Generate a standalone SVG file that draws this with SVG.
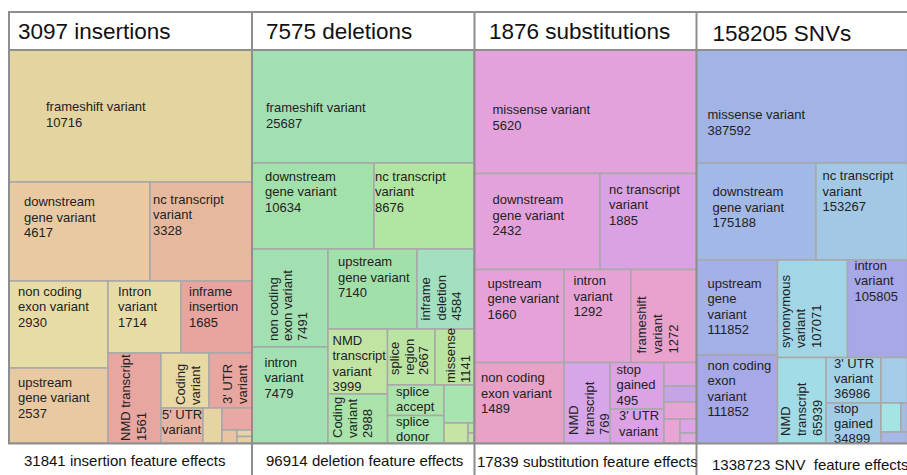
<svg xmlns="http://www.w3.org/2000/svg" width="907" height="475" viewBox="0 0 907 475">
<defs>
<style>
.b{stroke:#a8a8a8;stroke-width:1.5}
.t{font-family:"Liberation Sans",Arial,sans-serif;font-size:13px;fill:#222}
.h{font-family:"Liberation Sans",Arial,sans-serif;font-size:22.5px;fill:#111}
.f{font-family:"Liberation Sans",Arial,sans-serif;font-size:15px;fill:#111;white-space:pre}
.fr{stroke:#8e8e8e;stroke-width:2;fill:none}
</style>
<clipPath id="c3"><rect x="475" y="444" width="221.5" height="31"/></clipPath>
</defs>
<rect width="907" height="475" fill="#fff"/>

<g id="header">
<text class="h" x="18" y="39">3097 insertions</text>
<text class="h" x="266" y="39">7575 deletions</text>
<text class="h" x="489" y="39">1876 substitutions</text>
<text class="h" x="712.5" y="40.5">158205 SNVs</text>
</g>

<!-- Panel 1: insertions -->
<g id="insertions">
<g id="ins-frameshift"><rect class="b" x="9" y="50" width="243" height="132" fill="#e4d4a0"/><text class="t" x="46" y="111">frameshift variant<tspan x="46" dy="15.5">10716</tspan></text></g>
<g id="ins-downstream"><rect class="b" x="9" y="182" width="141" height="99" fill="#e8c9a2"/><text class="t" x="24" y="206">downstream<tspan x="24" dy="15.5">gene variant</tspan><tspan x="24" dy="15.5">4617</tspan></text></g>
<g id="ins-nc"><rect class="b" x="150" y="182" width="102" height="99" fill="#e6b99e"/><text class="t" x="153" y="203.5">nc transcript<tspan x="153" dy="15.5">variant</tspan><tspan x="153" dy="15.5">3328</tspan></text></g>
<g id="ins-noncoding"><rect class="b" x="9" y="281" width="99" height="87" fill="#e8dca6"/><text class="t" x="18" y="295.5">non coding<tspan x="18" dy="15.5">exon variant</tspan><tspan x="18" dy="15.5">2930</tspan></text></g>
<g id="ins-intron"><rect class="b" x="108" y="281" width="73" height="72" fill="#e8dca6"/><text class="t" x="118" y="295.5">Intron<tspan x="118" dy="15.5">variant</tspan><tspan x="118" dy="15.5">1714</tspan></text></g>
<g id="ins-inframe"><rect class="b" x="181" y="281" width="71" height="72" fill="#e8a5a0"/><text class="t" x="189" y="295.5">inframe<tspan x="189" dy="15.5">insertion</tspan><tspan x="189" dy="15.5">1685</tspan></text></g>
<g id="ins-upstream"><rect class="b" x="9" y="368" width="99" height="75" fill="#e8c9a2"/><text class="t" x="18" y="386.5">upstream<tspan x="18" dy="15.5">gene variant</tspan><tspan x="18" dy="15.5">2537</tspan></text></g>
<g id="ins-nmd"><rect class="b" x="108" y="353" width="53" height="90" fill="#e8a6a0"/><text class="t" transform="translate(130,441) rotate(-90)">NMD transcript<tspan x="0" dy="15.5">1561</tspan></text></g>
<g id="ins-coding"><rect class="b" x="161" y="353" width="48" height="55" fill="#e8d8a4"/><text class="t" transform="translate(185,405) rotate(-90)">Coding<tspan x="0" dy="15">variant</tspan></text></g>
<g id="ins-3utr"><rect class="b" x="209" y="353" width="43" height="55" fill="#e8a6a0"/><text class="t" transform="translate(231.5,404) rotate(-90)">3' UTR<tspan x="0" dy="15">variant</tspan></text></g>
<g id="ins-5utr"><rect class="b" x="161" y="408" width="42" height="35" fill="#e6b4a4"/><text class="t" x="162" y="419">5' UTR<tspan x="162" dy="15">variant</tspan></text></g>
<g id="ins-small"><rect class="b" x="203" y="408" width="19" height="35" fill="#e6d4a4"/><rect class="b" x="222" y="408" width="30" height="22" fill="#e8a8a4"/><rect class="b" x="222" y="430" width="15" height="13" fill="#e8c4a4"/><rect class="b" x="237" y="430" width="15" height="6.5" fill="#e6d4a4"/><rect class="b" x="237" y="436.5" width="15" height="6.5" fill="#e8d0a4"/></g>
</g>

<!-- Panel 2: deletions -->
<g id="deletions">
<g id="del-frameshift"><rect class="b" x="252" y="50" width="222" height="113" fill="#a2e0b4"/><text class="t" x="266" y="112">frameshift variant<tspan x="266" dy="15.5">25687</tspan></text></g>
<g id="del-downstream"><rect class="b" x="252" y="163" width="122" height="86" fill="#a2e0ac"/><text class="t" x="265" y="180.5">downstream<tspan x="265" dy="15.5">gene variant</tspan><tspan x="265" dy="15.5">10634</tspan></text></g>
<g id="del-nc"><rect class="b" x="374" y="163" width="100" height="86" fill="#b2e4a2"/><text class="t" x="375" y="180.5">nc transcript<tspan x="375" dy="15.5">variant</tspan><tspan x="375" dy="15.5">8676</tspan></text></g>
<g id="del-noncoding"><rect class="b" x="252" y="249" width="76" height="98" fill="#a2e0b2"/><text class="t" transform="translate(277.5,341) rotate(-90)">non coding<tspan x="0" dy="14.5">exon variant</tspan><tspan x="0" dy="14.5">7491</tspan></text></g>
<g id="del-upstream"><rect class="b" x="328" y="249" width="89" height="80" fill="#a2e0aa"/><text class="t" x="338" y="266">upstream<tspan x="338" dy="15.5">gene variant</tspan><tspan x="338" dy="15.5">7140</tspan></text></g>
<g id="del-inframe"><rect class="b" x="417" y="249" width="57" height="80" fill="#a2e0c0"/><text class="t" transform="translate(430,320.5) rotate(-90)">inframe<tspan x="0" dy="15.5">deletion</tspan><tspan x="0" dy="15.5">4584</tspan></text></g>
<g id="del-intron"><rect class="b" x="252" y="347" width="76" height="96" fill="#a2e0b2"/><text class="t" x="264.5" y="366.5">intron<tspan x="264.5" dy="15.5">variant</tspan><tspan x="264.5" dy="15.5">7479</tspan></text></g>
<g id="del-nmd"><rect class="b" x="328" y="329" width="59.5" height="65" fill="#c2e4a2"/><text class="t" x="332.5" y="344.5">NMD<tspan x="332.5" dy="15.5">transcript</tspan><tspan x="332.5" dy="15.5">variant</tspan><tspan x="332.5" dy="15.5">3999</tspan></text></g>
<g id="del-coding"><rect class="b" x="328" y="394" width="59.5" height="49" fill="#aae4aa"/><text class="t" transform="translate(341.5,438) rotate(-90)">Coding<tspan x="0" dy="15">variant</tspan><tspan x="0" dy="15.5">2988</tspan></text></g>
<g id="del-spliceregion"><rect class="b" x="387.5" y="329" width="47.5" height="56" fill="#bae4a2"/><text class="t" transform="translate(399,375) rotate(-90)">splice<tspan x="0" dy="14.5">region</tspan><tspan x="0" dy="14.5">2667</tspan></text></g>
<g id="del-missense"><rect class="b" x="435" y="329" width="39" height="56" fill="#bae4a2"/><text class="t" transform="translate(455,383) rotate(-90)">missense<tspan x="0" dy="15">1141</tspan></text></g>
<g id="del-accept"><rect class="b" x="387.5" y="385" width="56.5" height="30.5" fill="#aae4aa"/><text class="t" x="396" y="395.5">splice<tspan x="396" dy="15">accept</tspan></text></g>
<g id="del-donor"><rect class="b" x="387.5" y="415.5" width="56.5" height="27.5" fill="#aae4ae"/><text class="t" x="396" y="425.5">splice<tspan x="396" dy="15">donor</tspan></text></g>
<g id="del-small"><rect class="b" x="444" y="385" width="30" height="38" fill="#a8e4b0"/><rect class="b" x="444" y="423" width="24" height="20" fill="#c8e4a4"/><rect class="b" x="468" y="423" width="6" height="10" fill="#b8e4a8"/><rect class="b" x="468" y="433" width="6" height="10" fill="#c0e4a8"/></g>
</g>

<!-- Panel 3: substitutions -->
<g id="substitutions">
<g id="sub-missense"><rect class="b" x="474" y="50" width="223" height="123.5" fill="#e4a2dc"/><text class="t" x="492.5" y="114">missense variant<tspan x="492.5" dy="15.5">5620</tspan></text></g>
<g id="sub-downstream"><rect class="b" x="474" y="173.5" width="126" height="96" fill="#e4a2dc"/><text class="t" x="492.5" y="204">downstream<tspan x="492.5" dy="15.5">gene variant</tspan><tspan x="492.5" dy="15.5">2432</tspan></text></g>
<g id="sub-nc"><rect class="b" x="600" y="173.5" width="97" height="96" fill="#daa2e4"/><text class="t" x="609" y="193.5">nc transcript<tspan x="609" dy="15.5">variant</tspan><tspan x="609" dy="15.5">1885</tspan></text></g>
<g id="sub-upstream"><rect class="b" x="474" y="269.5" width="90" height="93" fill="#e6a2d8"/><text class="t" x="487.5" y="287.5">upstream<tspan x="487.5" dy="15.5">gene variant</tspan><tspan x="487.5" dy="15.5">1660</tspan></text></g>
<g id="sub-intron"><rect class="b" x="564" y="269.5" width="67" height="93" fill="#e6a2d4"/><text class="t" x="573.5" y="285">intron<tspan x="573.5" dy="15.5">variant</tspan><tspan x="573.5" dy="15.5">1292</tspan></text></g>
<g id="sub-frameshift"><rect class="b" x="631" y="269.5" width="66" height="93" fill="#e8a2cc"/><text class="t" transform="translate(646,353.5) rotate(-90)">frameshift<tspan x="0" dy="15.5">variant</tspan><tspan x="0" dy="16">1272</tspan></text></g>
<g id="sub-noncoding"><rect class="b" x="474" y="362.5" width="90" height="80.5" fill="#e8a2c8"/><text class="t" x="481" y="382">non coding<tspan x="481" dy="15.5">exon variant</tspan><tspan x="481" dy="15.5">1489</tspan></text></g>
<g id="sub-nmd"><rect class="b" x="564" y="362.5" width="46" height="80.5" fill="#d6a6e8"/><text class="t" transform="translate(578,435) rotate(-90)">NMD<tspan x="0" dy="15.5">transcript</tspan><tspan x="0" dy="15.5">769</tspan></text></g>
<g id="sub-stop"><rect class="b" x="610" y="362.5" width="54" height="46.5" fill="#dca2e4"/><text class="t" x="616.5" y="373.5">stop<tspan x="616.5" dy="15.5">gained</tspan><tspan x="616.5" dy="15.5">495</tspan></text></g>
<g id="sub-3utr"><rect class="b" x="610" y="409" width="54" height="34" fill="#dca2e4"/><text class="t" x="619" y="420">3' UTR<tspan x="619" dy="15.5">variant</tspan></text></g>
<g id="sub-small"><rect class="b" x="664" y="362.5" width="33" height="23.5" fill="#dfa3e0"/><rect class="b" x="664" y="386" width="33" height="16" fill="#c4a6e8"/><rect class="b" x="664" y="402" width="33" height="17" fill="#e6a4d6"/><rect class="b" x="664" y="419" width="16" height="24" fill="#e8a4d4"/><rect class="b" x="680" y="419" width="17" height="14" fill="#dca4e6"/><rect class="b" x="680" y="433" width="17" height="10" fill="#e0a8e0"/></g>
</g>

<!-- Panel 4: SNVs -->
<g id="snvs">
<g id="snv-missense"><rect class="b" x="696.5" y="50" width="211" height="113" fill="#a2b4e6"/><text class="t" x="707.5" y="119">missense variant<tspan x="707.5" dy="15.5">387592</tspan></text></g>
<g id="snv-downstream"><rect class="b" x="696.5" y="163" width="119.5" height="97" fill="#a2b8e6"/><text class="t" x="712.5" y="196">downstream<tspan x="712.5" dy="15.5">gene variant</tspan><tspan x="712.5" dy="15.5">175188</tspan></text></g>
<g id="snv-nc"><rect class="b" x="816" y="163" width="91.5" height="97" fill="#a2c8e6"/><text class="t" x="822.5" y="180">nc transcript<tspan x="822.5" dy="15.5">variant</tspan><tspan x="822.5" dy="15.5">153267</tspan></text></g>
<g id="snv-upstream"><rect class="b" x="696.5" y="260" width="81" height="95" fill="#a4b0e8"/><text class="t" x="707.5" y="287.5">upstream<tspan x="707.5" dy="15.5">gene</tspan><tspan x="707.5" dy="15.5">variant</tspan><tspan x="707.5" dy="15.5">111852</tspan></text></g>
<g id="snv-synonymous"><rect class="b" x="777.5" y="260" width="70" height="97.5" fill="#a2d6e6"/><text class="t" transform="translate(789.5,348) rotate(-90)">synonymous<tspan x="0" dy="15.5">variant</tspan><tspan x="0" dy="15.5">107071</tspan></text></g>
<g id="snv-intron"><rect class="b" x="847.5" y="260" width="60" height="97.5" fill="#a6a8e8"/><text class="t" x="854.5" y="269.5">intron<tspan x="854.5" dy="15.5">variant</tspan><tspan x="854.5" dy="15.5">105805</tspan></text></g>
<g id="snv-noncoding"><rect class="b" x="696.5" y="355" width="81" height="88" fill="#a6a8e8"/><text class="t" x="707.5" y="369.5">non coding<tspan x="707.5" dy="15.5">exon</tspan><tspan x="707.5" dy="15.5">variant</tspan><tspan x="707.5" dy="15.5">111852</tspan></text></g>
<g id="snv-nmd"><rect class="b" x="777.5" y="357.5" width="48.5" height="85.5" fill="#a2dce6"/><text class="t" transform="translate(790,436) rotate(-90)">NMD<tspan x="0" dy="16">transcript</tspan><tspan x="0" dy="15.5">65939</tspan></text></g>
<g id="snv-3utr"><rect class="b" x="826" y="357.5" width="55" height="45.5" fill="#a2d2e6"/><text class="t" x="834" y="368">3' UTR<tspan x="834" dy="15">variant</tspan><tspan x="834" dy="15">36986</tspan></text></g>
<g id="snv-stop"><rect class="b" x="826" y="403" width="55" height="40" fill="#a2cce6"/><text class="t" x="834" y="412.5">stop<tspan x="834" dy="15">gained</tspan><tspan x="834" dy="15">34899</tspan></text></g>
<g id="snv-small"><rect class="b" x="881" y="357.5" width="26.5" height="45.5" fill="#a4cce6"/><rect class="b" x="881" y="403" width="20" height="29" fill="#a4e4e4"/><rect class="b" x="901" y="403" width="6.5" height="29" fill="#a4bce6"/><rect class="b" x="881" y="432" width="26.5" height="11" fill="#a8b8e6"/></g>
</g>

<g id="frame">
<line class="fr" x1="8" y1="12" x2="907" y2="12"/>
<line class="fr" x1="9" y1="11" x2="9" y2="444"/>
<line class="fr" x1="8" y1="50" x2="907" y2="50"/>
<line class="fr" x1="8" y1="443.5" x2="907" y2="443.5"/>
<line class="fr" x1="252" y1="12" x2="252" y2="475"/>
<line class="fr" x1="474.5" y1="12" x2="474.5" y2="475"/>
<line class="fr" x1="696.5" y1="12" x2="696.5" y2="475"/>
</g>

<g id="footer">
<text class="f" x="24" y="465.5">31841 insertion feature effects</text>
<text class="f" x="266" y="466">96914 deletion feature effects</text>
<text class="f" x="477" y="467" clip-path="url(#c3)">17839 substitution feature effects</text>
<text class="f" x="712" y="469.5">1338723 SNV  feature effects</text>
</g>
</svg>
